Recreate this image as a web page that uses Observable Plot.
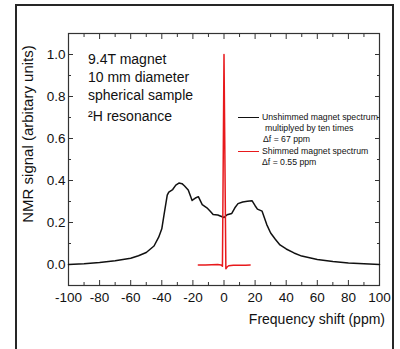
<!DOCTYPE html>
<html><head><meta charset="utf-8">
<script src="https://cdn.jsdelivr.net/npm/d3@7"></script>
<script src="https://cdn.jsdelivr.net/npm/@observablehq/plot@0.6"></script>
<style>
body{margin:0;background:#fff;font-family:"Liberation Sans",Arial,sans-serif;color:#111;}
#wrap{position:relative;width:400px;height:349px;overflow:hidden;background:#fff;}
#border{position:absolute;left:15px;top:4px;width:375px;height:400px;border:2px solid #262626;}
#chart{position:absolute;left:0;top:0;}
.t{position:absolute;white-space:nowrap;}
.ann{font-size:14px;line-height:14px;}
.leg{font-size:8.7px;line-height:9px;}
.sw{position:absolute;height:0;width:21px;}
</style></head>
<body>
<div id="wrap">
  <div id="border"></div>
  <div id="chart"></div>
</div>
<script>
// Unshimmed magnet spectrum (×10)
const unshimX = [-100,-90,-80,-70,-60,-55,-50,-45,-42,-40,-38.5,-36.5,-35.5,-33,-31,-29,-27,-25.5,-23,-20.5,-18,-16.5,-14,-11,-9,-7,-4,-2,0,2,5,7,9,12,15,18,20,21.5,24.5,27.5,30,33,36,40,45,50,60,70,80,90,100];
const unshimY = [0,0.004,0.01,0.018,0.03,0.042,0.057,0.088,0.13,0.17,0.24,0.33,0.345,0.357,0.378,0.388,0.385,0.375,0.355,0.305,0.318,0.323,0.285,0.27,0.255,0.238,0.236,0.23,0.224,0.237,0.243,0.27,0.29,0.298,0.301,0.304,0.28,0.264,0.254,0.19,0.15,0.12,0.093,0.074,0.055,0.04,0.024,0.014,0.007,0.003,0];
// Shimmed magnet spectrum
const shimX = [-16.5,-12,-8,-4,-2,-1,0,1.2,2,3,6,10,14,16.8];
const shimY = [-0.002,-0.002,-0.001,0,-0.002,-0.008,1.0,-0.02,-0.012,-0.006,-0.004,-0.003,-0.003,-0.002];
// ticks
const xMajor = [-100,-80,-60,-40,-20,0,20,40,60,80,100];
const xMinor = [-90,-70,-50,-30,-10,10,30,50,70,90];
const yMajor = [0,0.2,0.4,0.6,0.8,1.0];
const yMinor = [0.1,0.3,0.5,0.7,0.9];
// texts
const xLabel = "Frequency shift (ppm)";
const yLabel = "NMR signal (arbitary units)";
const annLines = ["9.4T magnet","10 mm diameter","spherical sample","²H resonance"];
const legUnshim = ["Unshimmed magnet spectrum","multiplyed by ten times","Δf = 67 ppm"];
const legShim = ["Shimmed magnet spectrum","Δf = 0.55 ppm"];
const colUnshim = "#111111", colShim = "#e8191c";

const unshim = unshimX.map((x,i)=>({x, y: unshimY[i]}));
const shim = shimX.map((x,i)=>({x, y: shimY[i]}));
const blank = () => "";
const ax = "#333";
const MAJ = 5, MIN = 3;

const chart = Plot.plot({
  width: 400, height: 349,
  marginLeft: 68, marginRight: 21, marginTop: 33, marginBottom: 64,
  style: {fontSize: "13.5px", fontFamily: '"Liberation Sans", Arial, sans-serif', color: "#111", background: "transparent", overflow: "visible"},
  x: {domain: [-100, 100]},
  y: {domain: [-0.1, 1.1]},
  marks: [
    // tick labels
    Plot.axisX({ticks: xMajor, tickSize: 0, tickPadding: 7, tickFormat: d => String(d), label: null}),
    Plot.axisY({ticks: yMajor, tickSize: 0, tickPadding: 3, tickFormat: d => d.toFixed(1), label: null}),
    // inward ticks (shifted inside by their own length)
    Plot.axisX({ticks: xMajor, tickSize: MAJ, dy: -MAJ, tickFormat: blank, label: null, stroke: ax}),
    Plot.axisX({ticks: xMinor, tickSize: MIN, dy: -MIN, tickFormat: blank, label: null, stroke: ax}),
    Plot.axisX({anchor: "top", ticks: xMajor, tickSize: MAJ, dy: MAJ, tickFormat: blank, label: null, stroke: ax}),
    Plot.axisX({anchor: "top", ticks: xMinor, tickSize: MIN, dy: MIN, tickFormat: blank, label: null, stroke: ax}),
    Plot.axisY({ticks: yMajor, tickSize: MAJ, dx: MAJ, tickFormat: blank, label: null, stroke: ax}),
    Plot.axisY({ticks: yMinor, tickSize: MIN, dx: MIN, tickFormat: blank, label: null, stroke: ax}),
    Plot.axisY({anchor: "right", ticks: yMajor, tickSize: MAJ, dx: -MAJ, tickFormat: blank, label: null, stroke: ax}),
    Plot.axisY({anchor: "right", ticks: yMinor, tickSize: MIN, dx: -MIN, tickFormat: blank, label: null, stroke: ax}),
    Plot.frame({stroke: ax, strokeWidth: 1.2}),
    Plot.line(unshim, {x: "x", y: "y", stroke: colUnshim, strokeWidth: 1.5}),
    Plot.line(shim, {x: "x", y: "y", stroke: colShim, strokeWidth: 1.5})
  ]
});
document.getElementById("chart").appendChild(chart);

const wrap = document.getElementById("wrap");
function addText(txt, cls, left, top, extra) {
  const d = document.createElement("div");
  d.className = "t " + cls;
  d.textContent = txt;
  d.style.left = left + "px";
  d.style.top = top + "px";
  if (extra) Object.assign(d.style, extra);
  wrap.appendChild(d);
  return d;
}
// axis labels
addText(xLabel, "", 0, 311, {fontSize: "14px", lineHeight: "16px", left: "auto", right: "15px"});
addText(yLabel, "", 27, 134, {fontSize: "15px", lineHeight: "17px", transform: "translate(-50%,-50%) rotate(-90deg)"});
// annotation
const annTops = [52, 70, 88, 109];
annLines.forEach((s,i)=>addText(s, "ann", 88, annTops[i]));
// legend
function swatch(color, top) {
  const s = document.createElement("div");
  s.className = "sw";
  s.style.left = "238px"; s.style.top = top + "px";
  s.style.borderTop = "1.5px solid " + color;
  wrap.appendChild(s);
}
swatch(colUnshim, 116.5);
swatch(colShim, 150.5);
addText(legUnshim[0], "leg", 262, 112.5);
addText(legUnshim[1], "leg", 265, 123.5);
addText(legUnshim[2], "leg", 263, 134.5);
addText(legShim[0], "leg", 262, 146.5);
addText(legShim[1], "leg", 262, 157.5);
</script>
</body></html>
